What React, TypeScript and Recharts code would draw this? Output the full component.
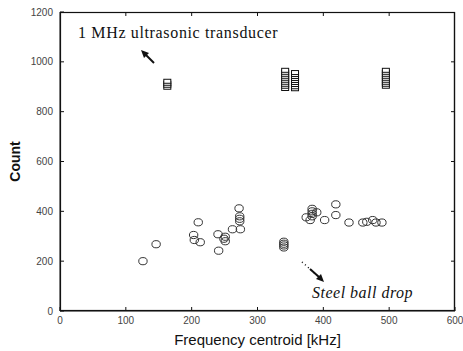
import React from 'react';
import { ScatterChart, Scatter, XAxis, YAxis, CartesianGrid } from 'recharts';

// 1 MHz ultrasonic transducer events (square markers)
const transducerFreq = [
  163, 163, 163, 163,
  342, 342, 342, 342, 342, 342, 342, 342, 342, 342,
  357, 357, 357, 357, 357, 357, 357, 357, 357,
  495, 495, 495, 495, 495, 495, 495, 495, 495,
];
const transducerCount = [
  898, 906, 914, 922,
  893, 902, 910, 918, 926, 934, 942, 950, 958, 966,
  892, 900, 909, 917, 925, 933, 941, 949, 957,
  902, 910, 918, 926, 934, 942, 950, 958, 966,
];

// steel ball drop events (circle markers)
const ballFreq = [
  126, 146, 203, 204, 213, 210, 240, 241, 251, 251, 249, 262,
  272, 273, 273, 273, 274, 340, 340, 340, 340,
  374, 380, 383, 383, 383, 383, 390, 402, 419, 419, 439, 460, 466, 475, 480, 489,
];
const ballCount = [
  200, 268, 305, 285, 276, 356, 308, 242, 298, 280, 290, 328,
  412, 380, 370, 360, 328, 255, 263, 270, 278,
  376, 365, 410, 400, 390, 380, 396, 365, 428, 385, 355, 355, 358, 365, 355, 355,
];

const xTicks = [0, 100, 200, 300, 400, 500, 600];
const yTicks = [0, 200, 400, 600, 800, 1000, 1200];
const xMax = 600;
const yMax = 1200;

const transducerData = transducerFreq.map((f, i) => ({ x: f, y: transducerCount[i] }));
const ballData = ballFreq.map((f, i) => ({ x: f, y: ballCount[i] }));

// chart layout
const W = 463;
const H = 351;
const margin = { top: 12, right: 8, bottom: 0, left: 0 };
const yAxisWidth = 60;
const xAxisHeight = 40;
const plotL = margin.left + yAxisWidth;
const plotR = W - margin.right;
const plotT = margin.top;
const plotB = H - margin.bottom - xAxisHeight;

const tickStyle = { fill: '#444', fontSize: 10, fontFamily: 'Liberation Sans, Arial, sans-serif' };
const axisColor = '#111';

const SquareMark = (p: any) => (
  <rect x={p.cx - 3.5} y={p.cy - 2} width={7} height={4} fill="#fff" stroke="#111" strokeWidth={1} />
);

const CircleMark = (p: any) => (
  <ellipse cx={p.cx} cy={p.cy} rx={4.2} ry={3.6} fill="none" stroke="#333" strokeWidth={1} />
);

const sx = (v: number) => plotL + (v / xMax) * (plotR - plotL);
const sy = (v: number) => plotB - (v / yMax) * (plotB - plotT);

export default function App() {
  return (
    <div style={{ position: 'absolute', left: 0, top: 0, width: W, height: H, background: '#fff' }}>
      <ScatterChart width={W} height={H} margin={margin}>
        {/* top and right edges of the box */}
        <CartesianGrid
          horizontalCoordinatesGenerator={() => [plotT + 0.5]}
          verticalCoordinatesGenerator={() => [plotR - 0.5]}
          stroke={axisColor}
          strokeWidth={1.2}
          strokeOpacity={1}
        />
        <XAxis
          type="number"
          dataKey="x"
          domain={[0, xMax]}
          ticks={xTicks}
          height={xAxisHeight}
          tickSize={-4}
          tickMargin={10}
          tick={tickStyle}
          stroke={axisColor}
          label={{
            value: 'Frequency centroid [kHz]',
            position: 'center',
            dy: 9,
            style: { fill: '#111', fontSize: 15, fontFamily: 'Liberation Sans, Arial, sans-serif' },
          }}
        />
        <YAxis
          type="number"
          dataKey="y"
          domain={[0, yMax]}
          ticks={yTicks}
          width={yAxisWidth}
          tickSize={-4}
          tickMargin={11}
          tick={tickStyle}
          stroke={axisColor}
          label={{
            value: 'Count',
            angle: -90,
            position: 'center',
            dx: -15,
            style: { fill: '#111', fontSize: 14, fontWeight: 'bold', fontFamily: 'Liberation Sans, Arial, sans-serif' },
          }}
        />
        <Scatter data={transducerData} shape={SquareMark} isAnimationActive={false} />
        <Scatter data={ballData} shape={CircleMark} isAnimationActive={false} />
      </ScatterChart>
      <svg width={W} height={H} style={{ position: 'absolute', left: 0, top: 0, pointerEvents: 'none' }}>
        <rect
          x={plotL + 0.5}
          y={plotT + 0.5}
          width={plotR - plotL - 1}
          height={plotB - plotT - 1}
          fill="none"
          stroke={axisColor}
          strokeWidth={1.2}
        />
        {xTicks.slice(1, -1).map((t) => (
          <path key={`tx${t}`} d={`M${sx(t)},${plotT} V${plotT + 4}`} stroke={axisColor} strokeWidth={1} />
        ))}
        {yTicks.slice(1, -1).map((t) => (
          <path key={`ty${t}`} d={`M${plotR},${sy(t)} H${plotR - 4}`} stroke={axisColor} strokeWidth={1} />
        ))}
        <text x={78} y={38} fontSize={16} letterSpacing={0.65} fontFamily="Liberation Serif, Times New Roman, serif" fill="#111">
          1 MHz ultrasonic transducer
        </text>
        <line x1={154} y1={63} x2={145} y2={54} stroke="#111" strokeWidth={2} />
        <polygon points="141,50 149,53 144,58" fill="#111" />
        <text x={312} y={298} fontSize={16} letterSpacing={0.5} fontStyle="italic" fontFamily="Liberation Serif, Times New Roman, serif" fill="#111">
          Steel ball drop
        </text>
        <line x1={302} y1={262} x2={319} y2={277} stroke="#111" strokeWidth={1.5} strokeDasharray="1 3" />
        <line x1={310} y1={269} x2={319} y2={277} stroke="#111" strokeWidth={2} />
        <polygon points="324,282 316,279 321,274" fill="#111" />
      </svg>
    </div>
  );
}
